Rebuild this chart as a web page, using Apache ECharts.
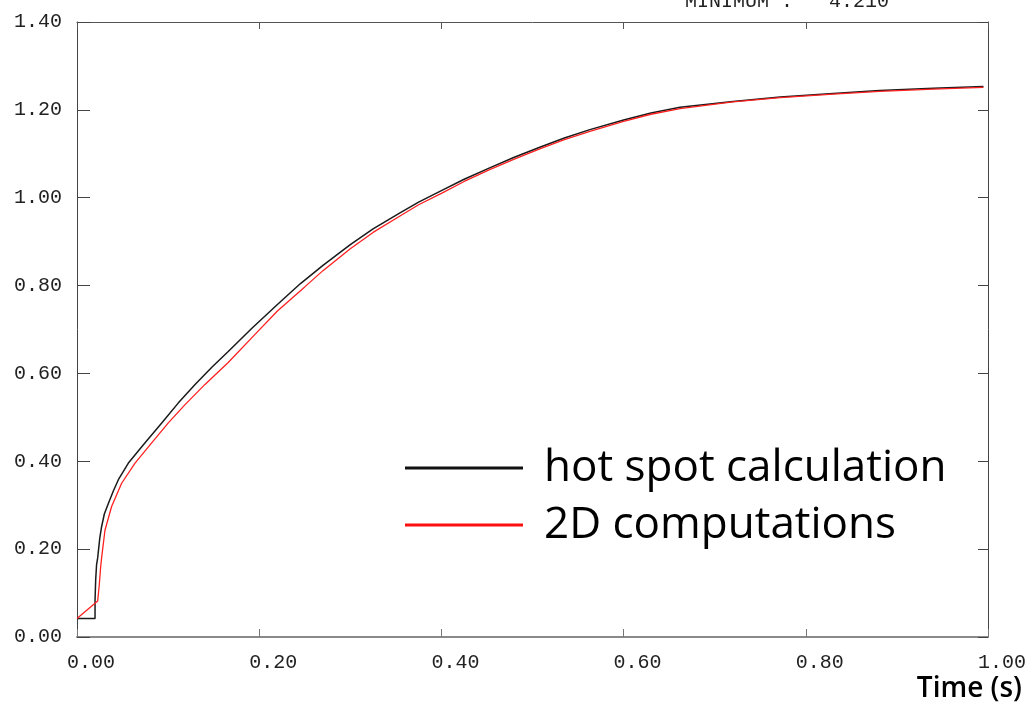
<!DOCTYPE html>
<html>
<head>
<meta charset="utf-8">
<script src="https://cdn.jsdelivr.net/npm/echarts@6/dist/echarts.min.js"></script>
<style>
html,body{margin:0;padding:0;background:#fff;}
#chart{width:1029px;height:709px;}
</style>
</head>
<body>
<div id="chart"></div>
<script>
// ---- data ----
const seriesNames = ['hot spot calculation', '2D computations'];
const hotSpotT = [0, 0.0198, 0.0198, 0.0205, 0.0215, 0.0227, 0.025, 0.027, 0.030, 0.0344, 0.040, 0.0454, 0.0564, 0.0747, 0.093, 0.1113, 0.1296, 0.148, 0.166, 0.192, 0.220, 0.245, 0.270, 0.300, 0.325, 0.355, 0.375, 0.400, 0.425, 0.453, 0.480, 0.508, 0.535, 0.563, 0.600, 0.630, 0.662, 0.720, 0.772, 0.830, 0.881, 0.940, 0.995];
const hotSpotV = [0.042, 0.042, 0.083, 0.13, 0.165, 0.18, 0.225, 0.251, 0.28, 0.304, 0.333, 0.358, 0.396, 0.442, 0.487, 0.533, 0.575, 0.614, 0.650, 0.703, 0.757, 0.804, 0.846, 0.893, 0.929, 0.966, 0.990, 1.016, 1.042, 1.068, 1.092, 1.115, 1.136, 1.155, 1.177, 1.193, 1.206, 1.219, 1.229, 1.237, 1.244, 1.249, 1.253];
const comp2dT = [0, 0.0227, 0.0245, 0.026, 0.027, 0.0307, 0.038, 0.049, 0.0637, 0.082, 0.100, 0.1186, 0.1405, 0.166, 0.1954, 0.220, 0.250, 0.270, 0.300, 0.325, 0.355, 0.375, 0.400, 0.425, 0.453, 0.480, 0.508, 0.535, 0.563, 0.600, 0.630, 0.662, 0.720, 0.772, 0.830, 0.881, 0.940, 0.995];
const comp2dV = [0.042, 0.082, 0.12, 0.16, 0.18, 0.243, 0.297, 0.350, 0.396, 0.442, 0.487, 0.529, 0.575, 0.625, 0.689, 0.742, 0.797, 0.834, 0.884, 0.921, 0.959, 0.984, 1.010, 1.037, 1.064, 1.088, 1.111, 1.132, 1.151, 1.174, 1.190, 1.203, 1.218, 1.228, 1.236, 1.242, 1.247, 1.251];
const xTicks = {min: 0, max: 1, interval: 0.2};
const yTicks = {min: 0, max: 1.4, interval: 0.2};
const headerText = 'MINIMUM :   4.210';
const xAxisTitle = 'Time (s)';

const zip = (a, b) => a.map((v, i) => [v, b[i]]);
const mono = 'Liberation Mono';
const sans = 'Open Sans';

const chart = echarts.init(document.getElementById('chart'), null, {renderer: 'canvas'});
chart.setOption({
  animation: false,
  backgroundColor: '#fff',
  grid: {left: 77, right: 41, top: 22, bottom: 72, containLabel: false},
  legend: {
    data: seriesNames,
    orient: 'vertical',
    left: 400,
    top: 441,
    icon: 'rect',
    itemWidth: 118,
    itemHeight: 3,
    itemGap: 13,
    textStyle: {fontFamily: sans, fontSize: 44, color: '#000', lineHeight: 44, padding: [0, 0, 0, 16]}
  },
  xAxis: [{
    type: 'value', position: 'bottom',
    min: xTicks.min, max: xTicks.max, interval: xTicks.interval,
    name: xAxisTitle, nameLocation: 'end', nameGap: 34,
    nameTextStyle: {fontFamily: sans, fontSize: 28, fontWeight: 600, color: '#000', align: 'right', verticalAlign: 'top', padding: [38, 0, 0, 0]},
    axisLine: {show: true, onZero: false, lineStyle: {color: '#8a8a8a', width: 2}},
    axisTick: {show: true, inside: true, length: 8, lineStyle: {color: '#777'}},
    axisLabel: {fontFamily: mono, fontSize: 20, color: '#222', margin: 16, align: 'center', padding: [0, 0, 0, 28],
      formatter: v => v.toFixed(2)},
    splitLine: {show: false}
  }, {
    type: 'value', position: 'top',
    min: xTicks.min, max: xTicks.max, interval: xTicks.interval,
    axisLine: {show: true, onZero: false, lineStyle: {color: '#555', width: 1}},
    axisTick: {show: true, inside: true, length: 7, lineStyle: {color: '#555'}},
    axisLabel: {show: false},
    splitLine: {show: false}
  }],
  yAxis: [{
    type: 'value', position: 'left',
    min: yTicks.min, max: yTicks.max, interval: yTicks.interval,
    axisLine: {show: true, onZero: false, lineStyle: {color: '#444', width: 1}},
    axisTick: {show: true, inside: true, length: 13, lineStyle: {color: '#444'}},
    axisLabel: {fontFamily: mono, fontSize: 20, color: '#222', margin: 15, padding: [0, 0, 11, 0],
      formatter: v => v.toFixed(2)},
    splitLine: {show: false}
  }, {
    type: 'value', position: 'right',
    min: yTicks.min, max: yTicks.max, interval: yTicks.interval,
    axisLine: {show: true, onZero: false, lineStyle: {color: '#444', width: 1}},
    axisTick: {show: true, inside: true, length: 10, lineStyle: {color: '#444'}},
    axisLabel: {show: false},
    splitLine: {show: false}
  }],
  series: [{
    name: seriesNames[0], type: 'line', data: zip(hotSpotT, hotSpotV),
    showSymbol: false, symbol: 'none', smooth: false,
    lineStyle: {color: '#1a1a1a', width: 1.5}, itemStyle: {color: '#111'}
  }, {
    name: seriesNames[1], type: 'line', data: zip(comp2dT, comp2dV),
    showSymbol: false, symbol: 'none', smooth: false,
    lineStyle: {color: '#ff2020', width: 1.3}, itemStyle: {color: '#ff1010'}
  }],
  graphic: [{
    type: 'text', left: 685, top: -8,
    style: {text: headerText, font: '20px "Liberation Mono"', fill: '#222'}
  }]
});
</script>
</body>
</html>
